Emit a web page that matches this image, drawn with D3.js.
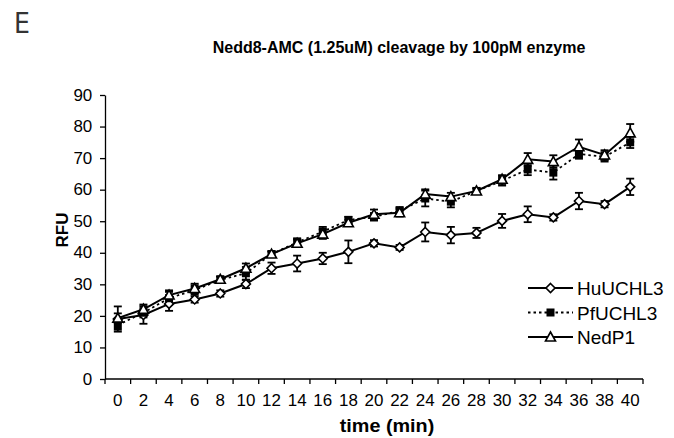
<!DOCTYPE html>
<html>
<head>
<meta charset="utf-8">
<script src="https://cdn.jsdelivr.net/npm/d3@7"></script>
<style>
  body { margin: 0; background: #fff; }
</style>
</head>
<body>
<svg width="674" height="438"></svg>
<script>
// time points (min)
const times = [0, 2, 4, 6, 8, 10, 12, 14, 16, 18, 20, 22, 24, 26, 28, 30, 32, 34, 36, 38, 40];

const huValues = [19.0, 20.3, 23.8, 25.2, 27.1, 30.1, 35.1, 36.6, 38.2, 40.3, 43.0, 41.7, 46.6, 45.6, 46.3, 50.1, 52.2, 51.2, 56.4, 55.4, 60.9];
const huErrors = [4.0, 2.8, 2.2, 1.0, 1.0, 1.3, 1.8, 2.5, 1.8, 3.6, 1.0, 0.8, 3.0, 2.6, 1.6, 2.2, 2.5, 1.0, 2.6, 1.0, 2.6];

const pfValues = [17.1, 21.0, 25.6, 28.2, 31.4, 33.5, 39.6, 43.3, 46.7, 50.4, 51.4, 53.3, 57.2, 56.2, 59.6, 62.8, 66.4, 65.4, 71.3, 70.4, 75.0];
const pfErrors = [1.5, 1.5, 2.0, 1.5, 1.0, 2.0, 0.8, 1.3, 1.5, 1.0, 1.2, 1.2, 2.5, 1.8, 0.8, 1.5, 1.8, 2.2, 1.5, 1.5, 1.8];

const nedValues = [19.3, 22.1, 26.6, 28.7, 31.6, 35.1, 39.6, 43.0, 45.9, 49.5, 52.2, 52.7, 58.6, 57.8, 59.6, 63.3, 69.6, 68.9, 73.6, 71.0, 78.0];
const nedErrors = [1.5, 1.5, 1.5, 1.5, 1.0, 1.5, 0.8, 1.2, 1.5, 1.0, 1.5, 1.2, 1.5, 1.2, 0.8, 1.3, 2.0, 2.0, 2.3, 1.5, 2.8];

const yTicks = [0, 10, 20, 30, 40, 50, 60, 70, 80, 90];

const seriesNames = ['HuUCHL3', 'PfUCHL3', 'NedP1'];

const FONT = '"Liberation Sans", Arial, Helvetica, sans-serif';

// chart geometry
const plotLeft = 105, plotRight = 643, plotTop = 95, plotBottom = 379;

const svg = d3.select('svg').attr('font-family', FONT);

const xScale = d3.scaleBand()
    .domain(times)
    .range([plotLeft, plotRight])
    .padding(0);

const yScale = d3.scaleLinear()
    .domain([0, 90])
    .range([plotBottom, plotTop]);

const cx = (t) => xScale(t) + xScale.bandwidth() / 2;

// y axis
const yAxis = svg.append('g')
    .attr('transform', `translate(${plotLeft},0)`)
    .call(d3.axisLeft(yScale).tickValues(yTicks).tickSize(5).tickSizeOuter(0).tickPadding(7));
yAxis.attr('font-family', FONT);
yAxis.select('.domain').attr('stroke-width', 1.3);
yAxis.selectAll('.tick line').attr('stroke-width', 1.3);
yAxis.selectAll('text')
    .attr('font-size', 16)
    .attr('fill', '#000')
    .attr('transform', 'scale(1.06,1)');

// x axis - excel style, ticks between categories
const xAxis = svg.append('g')
    .attr('transform', `translate(0,${plotBottom})`)
    .call(d3.axisBottom(xScale).tickSize(0).tickPadding(16));
xAxis.attr('font-family', FONT);
xAxis.select('.domain').attr('stroke-width', 1.3).attr('d', `M${plotLeft},0H${plotRight}`);
xAxis.selectAll('text')
    .attr('font-size', 16)
    .attr('fill', '#000')
    .attr('transform', 'scale(1.06,1)');

const bounds = times.map((t) => xScale(t)).concat([plotRight]);
xAxis.selectAll('.xtick')
    .data(bounds)
    .enter()
    .append('line')
    .attr('x1', (d) => d).attr('x2', (d) => d)
    .attr('y1', 0).attr('y2', 5)
    .attr('stroke', '#000')
    .attr('stroke-width', 1.3);

// data series
const series = [
  { name: seriesNames[0], values: huValues, errors: huErrors, dash: null, marker: 'diamond' },
  { name: seriesNames[1], values: pfValues, errors: pfErrors, dash: '2.5,3', marker: 'square' },
  { name: seriesNames[2], values: nedValues, errors: nedErrors, dash: null, marker: 'triangle' },
];

function drawMarker(g, type, x, y) {
  if (type === 'diamond') {
    g.append('path')
      .attr('d', `M${x},${y - 4.5}L${x + 4.5},${y}L${x},${y + 4.5}L${x - 4.5},${y}Z`)
      .attr('fill', '#fff').attr('stroke', '#000').attr('stroke-width', 1.6);
  } else if (type === 'square') {
    g.append('rect')
      .attr('x', x - 4).attr('y', y - 4).attr('width', 8).attr('height', 8)
      .attr('fill', '#000');
  } else {
    g.append('path')
      .attr('d', `M${x},${y - 5}L${x + 5},${y + 4}L${x - 5},${y + 4}Z`)
      .attr('fill', '#fff').attr('stroke', '#000').attr('stroke-width', 1.6);
  }
}

const line = d3.line()
    .x((d) => cx(d.t))
    .y((d) => yScale(d.v));

// error bars first
series.forEach((s) => {
  const g = svg.append('g').attr('stroke', '#000').attr('stroke-width', 1.8);
  times.forEach((t, i) => {
    const x = cx(t);
    const y1 = yScale(s.values[i] + s.errors[i]);
    const y2 = yScale(s.values[i] - s.errors[i]);
    g.append('line').attr('x1', x).attr('x2', x).attr('y1', y1).attr('y2', y2);
    g.append('line').attr('x1', x - 4).attr('x2', x + 4).attr('y1', y1).attr('y2', y1);
    g.append('line').attr('x1', x - 4).attr('x2', x + 4).attr('y1', y2).attr('y2', y2);
  });
});

series.forEach((s) => {
  const pts = times.map((t, i) => ({ t: t, v: s.values[i] }));
  svg.append('path')
    .datum(pts)
    .attr('d', line)
    .attr('fill', 'none')
    .attr('stroke', '#000')
    .attr('stroke-width', s.dash ? 1.8 : 2)
    .attr('stroke-dasharray', s.dash);
  const g = svg.append('g');
  pts.forEach((p) => drawMarker(g, s.marker, cx(p.t), yScale(p.v)));
});

// legend
const legend = svg.append('g');
series.forEach((s, i) => {
  const y = 288 + i * 24.5;
  legend.append('line')
    .attr('x1', 528).attr('x2', 573).attr('y1', y).attr('y2', y)
    .attr('stroke', '#000').attr('stroke-width', 2)
    .attr('stroke-dasharray', s.dash);
  drawMarker(legend, s.marker, 550.5, y);
  legend.append('text')
    .attr('x', 577).attr('y', y + 7)
    .attr('font-size', 19)
    .text(s.name);
});

// titles
svg.append('text')
    .attr('x', 399).attr('y', 53)
    .attr('text-anchor', 'middle')
    .attr('font-weight', 'bold')
    .attr('font-size', 16)
    .text('Nedd8-AMC (1.25uM) cleavage by 100pM enzyme');

svg.append('text')
    .attr('transform', 'translate(387,432) scale(1.1,1)')
    .attr('text-anchor', 'middle')
    .attr('font-weight', 'bold')
    .attr('font-size', 18)
    .text('time (min)');

svg.append('text')
    .attr('transform', 'translate(68,230) rotate(-90)')
    .attr('text-anchor', 'middle')
    .attr('font-weight', 'bold')
    .attr('font-size', 17)
    .text('RFU');

svg.append('text')
    .attr('x', 14).attr('y', 33)
    .attr('font-family', '"Liberation Sans Narrow", "DejaVu Sans Condensed", sans-serif')
    .attr('font-size', 28)
    .attr('fill', '#333')
    .text('E');
</script>
</body>
</html>
